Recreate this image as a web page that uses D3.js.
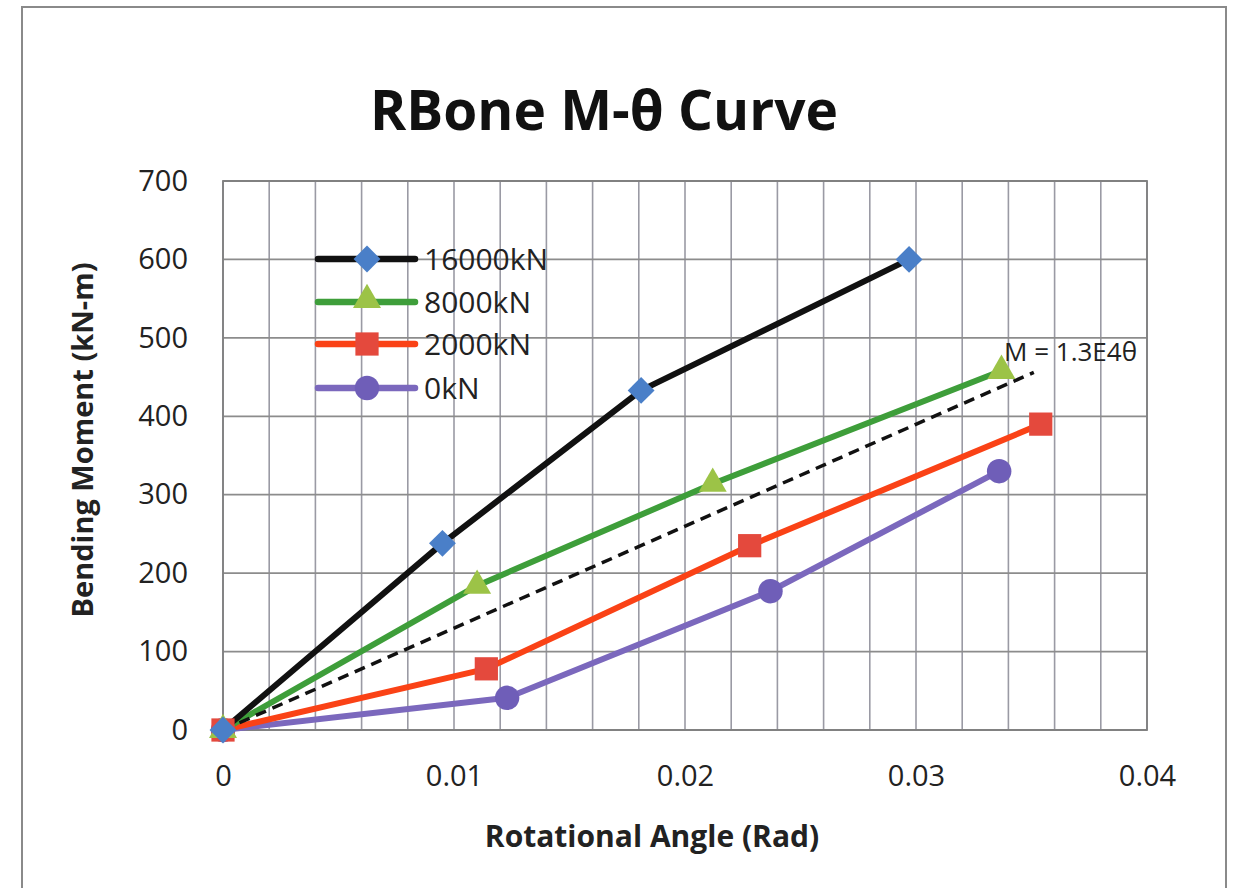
<!DOCTYPE html>
<html><head><meta charset="utf-8">
<script src="https://cdn.jsdelivr.net/npm/d3@7"></script>
<style>body{margin:0;background:#fff;} svg{display:block;}</style>
</head><body>
<svg id="c" width="1239" height="888"></svg>
<script>
const seriesNames = ["16000kN","8000kN","2000kN","0kN"];
const s16000 = [[0,0],[0.0095,238],[0.0181,433],[0.0297,600]];
const s8000  = [[0,0],[0.0110,184],[0.0212,314],[0.0337,458]];
const s2000  = [[0,0],[0.0114,78],[0.0228,235],[0.0354,390]];
const s0     = [[0,0],[0.0123,41],[0.0237,177],[0.0336,330]];
const fitLine = [[0,0],[0.0351,456]];
const fitLabel = "M = 1.3E4θ";
const xTicks = [0,0.01,0.02,0.03,0.04];
const xTickLabels = ["0","0.01","0.02","0.03","0.04"];
const yTicks = [0,100,200,300,400,500,600,700];
const xMinor = d3.range(0,0.0401,0.002);

const svg = d3.select("#c");
const font = "'Open Sans', 'Noto Sans', sans-serif";
const L=223,R=1147,T=181,B=730;
const x = d3.scaleLinear().domain([0,0.04]).range([L,R]);
const y = d3.scaleLinear().domain([0,700]).range([B,T]);

// outer frame
svg.append("rect").attr("x",22).attr("y",7).attr("width",1204).attr("height",900)
  .attr("fill","none").attr("stroke","#8a8a8a").attr("stroke-width",2);

// title
svg.append("text").attr("x",604).attr("y",130).attr("text-anchor","middle")
  .attr("font-family",font).attr("font-weight","bold").attr("font-size",55).attr("fill","#111")
  .text("RBone M-θ Curve");

// grid
const g = svg.append("g");
g.selectAll("line.v").data(xMinor).join("line")
  .attr("x1",d=>x(d)).attr("x2",d=>x(d)).attr("y1",T).attr("y2",B)
  .attr("stroke","#9a9aa4").attr("stroke-width",1.6);
g.selectAll("line.h").data(yTicks).join("line")
  .attr("x1",L).attr("x2",R).attr("y1",d=>y(d)).attr("y2",d=>y(d))
  .attr("stroke","#8c8c8c").attr("stroke-width",1.8);
g.append("rect").attr("x",L).attr("y",T).attr("width",R-L).attr("height",B-T)
  .attr("fill","none").attr("stroke","#808080").attr("stroke-width",1.8);

// axes
const xAxis = d3.axisBottom(x).tickValues(xTicks).tickFormat((d,i)=>xTickLabels[i]).tickSize(0).tickPadding(35);
const xa = svg.append("g").attr("transform",`translate(0,${B})`).call(xAxis);
xa.select(".domain").remove();
xa.selectAll("text").attr("font-family",font).attr("font-size",29).attr("fill","#222");
const yAxis = d3.axisLeft(y).tickValues(yTicks).tickSize(0).tickPadding(35);
const ya = svg.append("g").attr("transform",`translate(${L},0)`).call(yAxis);
ya.select(".domain").remove();
ya.selectAll("text").attr("font-family",font).attr("font-size",29).attr("fill","#222");

svg.append("text").attr("x",652).attr("y",847).attr("text-anchor","middle")
  .attr("font-family",font).attr("font-weight","bold").attr("font-size",30).attr("fill","#222")
  .text("Rotational Angle (Rad)");
svg.append("text").attr("transform","translate(93,440) rotate(-90)").attr("text-anchor","middle")
  .attr("font-family",font).attr("font-weight","bold").attr("font-size",29).attr("fill","#222")
  .text("Bending Moment (kN-m)");

// series
const series = [
  {name:seriesNames[0], data:s16000, line:"#111111", fill:"#4a7fc8", shape:d3.symbolDiamond2, size:460},
  {name:seriesNames[1], data:s8000,  line:"#3e9e3a", fill:"#9cc347", shape:d3.symbolTriangle, size:340},
  {name:seriesNames[2], data:s2000,  line:"#fa4216", fill:"#e4493d", shape:d3.symbolSquare, size:540},
  {name:seriesNames[3], data:s0,     line:"#7b68bd", fill:"#6f5eb8", shape:d3.symbolCircle, size:470},
];
const line = d3.line().x(d=>x(d[0])).y(d=>y(d[1]));

[...series].reverse().forEach(s=>{
  svg.append("path").attr("d",line(s.data)).attr("fill","none")
    .attr("stroke",s.line).attr("stroke-width",6).attr("stroke-linejoin","round").attr("stroke-linecap","round");
});
// fit line
svg.append("path").attr("d",line(fitLine)).attr("fill","none").attr("stroke","#111")
  .attr("stroke-width",3.5).attr("stroke-dasharray","11,7");
[...series].reverse().forEach(s=>{
  svg.selectAll(null).data(s.data).join("path")
    .attr("d",d3.symbol().type(s.shape).size(s.size))
    .attr("transform",d=>`translate(${x(d[0])},${y(d[1])})`)
    .attr("fill",s.fill);
});

svg.append("text").attr("x",1004).attr("y",361).attr("font-family",font).attr("font-size",26).attr("fill","#222")
  .text(fitLabel);

// legend
const legY = [259,302,344,388];
series.forEach((s,i)=>{
  const lg = svg.append("g").attr("transform",`translate(0,${legY[i]})`);
  lg.append("line").attr("x1",318).attr("x2",415).attr("y1",0).attr("y2",0)
    .attr("stroke",s.line).attr("stroke-width",6.5).attr("stroke-linecap","round");
  lg.append("path").attr("d",d3.symbol().type(s.shape).size(s.size)).attr("transform",`translate(367,${s.shape===d3.symbolTriangle?-2:0})`).attr("fill",s.fill);
  lg.append("text").attr("x",424).attr("y",11).attr("font-family",font).attr("font-size",30).attr("fill","#222").text(s.name);
});
</script>
</body></html>
